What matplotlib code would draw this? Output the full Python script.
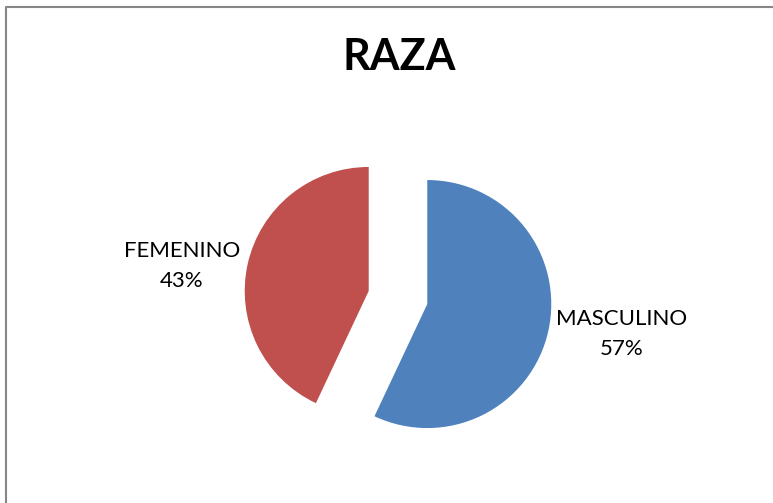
import matplotlib
matplotlib.use("Agg")
import matplotlib.pyplot as plt
from matplotlib.lines import Line2D

# data
categories = ["MASCULINO", "FEMENINO"]
values = [57, 43]
colors = ["#4F81BD", "#C0504D"]

plt.rcParams["font.family"] = ["Lato", "DejaVu Sans"]

W, H = 773, 503
fig = plt.figure(figsize=(W / 100, H / 100), dpi=100)
ax = fig.add_axes([0, 0, 1, 1])

# chart frame (only left and top visible, rest cropped)
fx, fy = 6.5 / W, 1 - 6.5 / H
fig.lines.append(Line2D([fx, fx, 1.0], [0, fy, fy], transform=fig.transFigure,
                        color="#868686", linewidth=1.5))

# explode is in data units (pixels here)
ax.pie(values, colors=colors, startangle=90, counterclock=False,
       center=(398, H - 297.5), radius=124, explode=[30, 30],
       wedgeprops=dict(linewidth=0), frame=True)
ax.set_xlim(0, W)
ax.set_ylim(0, H)
ax.set_aspect("equal")
ax.axis("off")

label_pos = {"MASCULINO": (622, H - 334), "FEMENINO": (182, H - 266)}
for name, val in zip(categories, values):
    x, y = label_pos[name]
    ax.text(x, y, f"{name}\n{val}%", ha="center", va="center",
            fontsize=16, linespacing=1.65, color="black")

ax.text(399, H - 57, "RAZA", ha="center", va="center",
        fontsize=31, fontweight="bold", color="black")

fig.savefig("out.png", dpi=100)
